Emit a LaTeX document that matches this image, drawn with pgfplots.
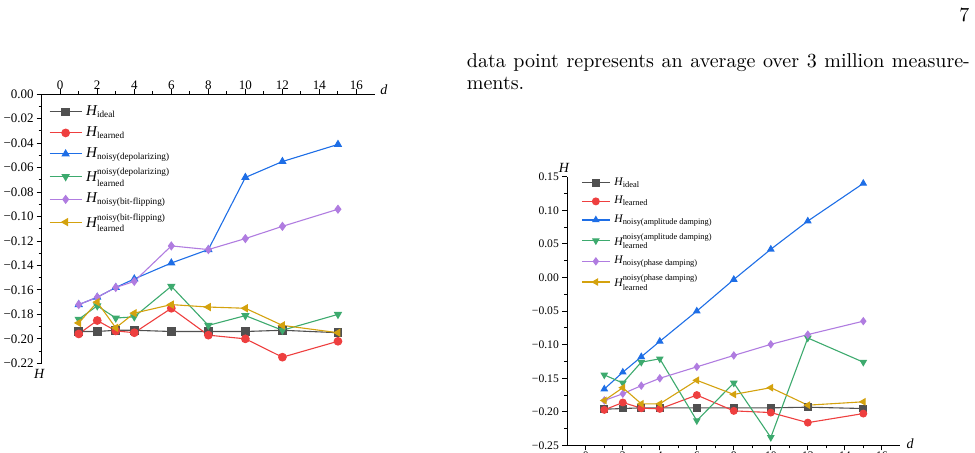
\documentclass[border=0pt]{standalone}
\usepackage{fontspec}
\usepackage{amsmath}
\usepackage{pgfplots}
\pgfplotsset{compat=1.18}
\newfontfamily\chartfont{Liberation Serif}

\definecolor{cideal}{HTML}{505050}
\definecolor{clearn}{HTML}{EE3F3F}
\definecolor{cnoisy}{HTML}{1E6EE6}
\definecolor{cnlearn}{HTML}{3DAA6E}
\definecolor{cpnoisy}{HTML}{B07CE0}
\definecolor{cplearn}{HTML}{D4A20E}

% H with a subscript, and H with both a superscript and a subscript
\newcommand\Hs[2]{{\itshape H}$_{\text{\fontsize{#1}{#1}\selectfont #2}}$}
\newcommand\Hss[3]{{\itshape H}$^{\text{\fontsize{#1}{#1}\selectfont #2}}_{\text{\fontsize{#1}{#1}\selectfont #3}}$}

\pgfplotsset{
  entropy/.style={
    scale only axis,
    xmin=-1, xmax=17,
    xtick={0,2,...,16},
    minor x tick num=1, minor y tick num=1,
    tick align=outside,
    major tick length=2.5pt, minor tick length=1.5pt,
    axis line style={line width=0.6pt, black},
    every tick/.style={line width=0.5pt, black},
    every axis plot/.append style={line width=0.55pt},
    legend cell align=left,
  },
  ser/.style={color=#1, mark options={solid, fill=#1, draw=#1}},
}

\begin{document}
\begin{tikzpicture}
\useasboundingbox (0,0) rectangle (487.5pt,226.5pt);

% page number and running text
\node[font=\normalsize] at (482.2pt,219pt) {7};
\node[anchor=base west, inner sep=0pt] at (233.25pt,192.5pt)
  {\makebox[251.5pt][s]{data point represents an average over 3 million measure-}};
\node[anchor=base west, inner sep=0pt] at (233.25pt,181.5pt) {ments.};

% depolarizing / bit-flipping channels
\begin{axis}[entropy,
  at={(20.85pt,179.35pt)}, anchor=north west,
  width=166.65pt, height=134.5pt,
  ymin=-0.22, ymax=0,
  axis x line*=top, axis y line*=left,
  xtick pos=right, xticklabel pos=right,
  ytick pos=left, yticklabel pos=left,
  ytick={0,-0.02,-0.04,-0.06,-0.08,-0.10,-0.12,-0.14,-0.16,-0.18,-0.20,-0.22},
  yticklabels={0.00,−0.02,−0.04,−0.06,−0.08,−0.10,−0.12,−0.14,−0.16,−0.18,−0.20,−0.22},
  xticklabels={0,2,4,6,8,10,12,14,16},
  tick label style={font=\chartfont\fontsize{6.5}{7}\selectfont},
  xticklabel style={yshift=-3.5pt},
  yticklabel style={xshift=2pt},
  xlabel={\itshape d},
  every axis x label/.style={at={(rel axis cs:1,1)}, anchor=base west, inner sep=0pt,
    xshift=2.5pt, font=\chartfont\fontsize{7}{8}\selectfont},
  ylabel={\itshape H},
  every axis y label/.style={at={(rel axis cs:0,0)}, anchor=north, inner sep=0pt,
    xshift=-1.3pt, yshift=-3pt, font=\chartfont\fontsize{7}{8}\selectfont},
  mark size=1.9pt,
  legend style={at={(rel axis cs:0,1)}, anchor=north west, xshift=3.5pt, yshift=-3.4pt,
    draw=none, fill=none, inner sep=0pt, row sep=0.1pt,
    font=\chartfont\fontsize{7.5}{8}\selectfont},
  legend image code/.code={\draw[mark repeat=2, mark phase=2]
    plot coordinates {(0pt,0pt) (8pt,0pt) (16pt,0pt)};},
]
\addplot[ser=cideal, mark=square*] coordinates {
  (1,-0.194) (2,-0.194) (3,-0.193) (4,-0.193) (6,-0.194) (8,-0.194) (10,-0.194) (12,-0.193) (15,-0.195)};
\addplot[ser=clearn, mark=*] coordinates {
  (1,-0.196) (2,-0.185) (3,-0.1935) (4,-0.195) (6,-0.175) (8,-0.197) (10,-0.200) (12,-0.215) (15,-0.202)};
\addplot[ser=cnoisy, mark=triangle*] coordinates {
  (1,-0.172) (2,-0.166) (3,-0.158) (4,-0.151) (6,-0.138) (8,-0.127) (10,-0.068) (12,-0.055) (15,-0.041)};
\addplot[ser=cnlearn, mark=triangle*, mark options={rotate=180}] coordinates {
  (1,-0.184) (2,-0.173) (3,-0.183) (4,-0.182) (6,-0.157) (8,-0.189) (10,-0.181) (12,-0.193) (15,-0.180)};
\addplot[ser=cpnoisy, mark=diamond*] coordinates {
  (1,-0.172) (2,-0.166) (3,-0.158) (4,-0.153) (6,-0.124) (8,-0.127) (10,-0.118) (12,-0.108) (15,-0.094)};
\addplot[ser=cplearn, mark=triangle*, mark options={rotate=90}] coordinates {
  (1,-0.187) (2,-0.170) (3,-0.191) (4,-0.179) (6,-0.172) (8,-0.174) (10,-0.175) (12,-0.189) (15,-0.195)};
\legend{\Hs{4.6}{ideal}, \Hs{4.6}{learned}, \Hs{4.6}{noisy(depolarizing)},
  \Hss{4.6}{noisy(depolarizing)}{learned}, \Hs{4.6}{noisy(bit-flipping)},
  \Hss{4.6}{noisy(bit-flipping)}{learned}}
\end{axis}

% amplitude / phase damping channels
\begin{axis}[entropy,
  at={(283.65pt,3.75pt)}, anchor=south west,
  width=166.5pt, height=134.4pt,
  ymin=-0.25, ymax=0.15,
  axis x line*=bottom, axis y line*=left,
  xtick pos=left, xticklabel pos=left,
  ytick pos=left, yticklabel pos=left,
  ytick={-0.25,-0.20,-0.15,-0.10,-0.05,0,0.05,0.10,0.15},
  yticklabels={−0.25,−0.20,−0.15,−0.10,−0.05,0.00,0.05,0.10,0.15},
  xticklabels={0,2,4,6,8,10,12,14,16},
  tick label style={font=\chartfont\fontsize{5.8}{6.5}\selectfont},
  xticklabel style={yshift=3pt},
  yticklabel style={xshift=1.8pt},
  xlabel={\itshape d},
  every axis x label/.style={at={(rel axis cs:1,0)}, anchor=base west, inner sep=0pt,
    xshift=3pt, yshift=-1.5pt, font=\chartfont\fontsize{7}{8}\selectfont},
  ylabel={\itshape H},
  every axis y label/.style={at={(rel axis cs:0,1)}, anchor=south, inner sep=0pt,
    xshift=-1.7pt, yshift=2pt, font=\chartfont\fontsize{7}{8}\selectfont},
  mark size=1.7pt,
  legend style={at={(rel axis cs:0,1)}, anchor=north west, xshift=6.8pt, yshift=1.8pt,
    draw=none, fill=none, inner sep=0pt, row sep=0pt,
    font=\chartfont\fontsize{5.8}{6.5}\selectfont},
  legend image code/.code={\draw[mark repeat=2, mark phase=2]
    plot coordinates {(0pt,0pt) (7pt,0pt) (14pt,0pt)};},
]
\addplot[ser=cideal, mark=square*] coordinates {
  (1,-0.196) (2,-0.195) (3,-0.194) (4,-0.194) (6,-0.194) (8,-0.194) (10,-0.194) (12,-0.193) (15,-0.195)};
\addplot[ser=clearn, mark=*] coordinates {
  (1,-0.197) (2,-0.186) (3,-0.1945) (4,-0.1955) (6,-0.175) (8,-0.1985) (10,-0.201) (12,-0.216) (15,-0.2025)};
\addplot[ser=cnoisy, mark=triangle*] coordinates {
  (1,-0.166) (2,-0.141) (3,-0.118) (4,-0.095) (6,-0.050) (8,-0.003) (10,0.042) (12,0.084) (15,0.140)};
\addplot[ser=cnlearn, mark=triangle*, mark options={rotate=180}] coordinates {
  (1,-0.145) (2,-0.157) (3,-0.126) (4,-0.121) (6,-0.213) (8,-0.157) (10,-0.238) (12,-0.090) (15,-0.126)};
\addplot[ser=cpnoisy, mark=diamond*] coordinates {
  (1,-0.183) (2,-0.173) (3,-0.161) (4,-0.150) (6,-0.133) (8,-0.116) (10,-0.0995) (12,-0.085) (15,-0.065)};
\addplot[ser=cplearn, mark=triangle*, mark options={rotate=90}] coordinates {
  (1,-0.183) (2,-0.164) (3,-0.188) (4,-0.188) (6,-0.153) (8,-0.174) (10,-0.164) (12,-0.190) (15,-0.185)};
\legend{\Hs{4.2}{ideal}, \Hs{4.2}{learned}, \Hs{4.2}{noisy(amplitude damping)},
  \Hss{4.2}{noisy(amplitude damping)}{learned}, \Hs{4.2}{noisy(phase damping)},
  \Hss{4.2}{noisy(phase damping)}{learned}}
\end{axis}
\end{tikzpicture}
\end{document}
